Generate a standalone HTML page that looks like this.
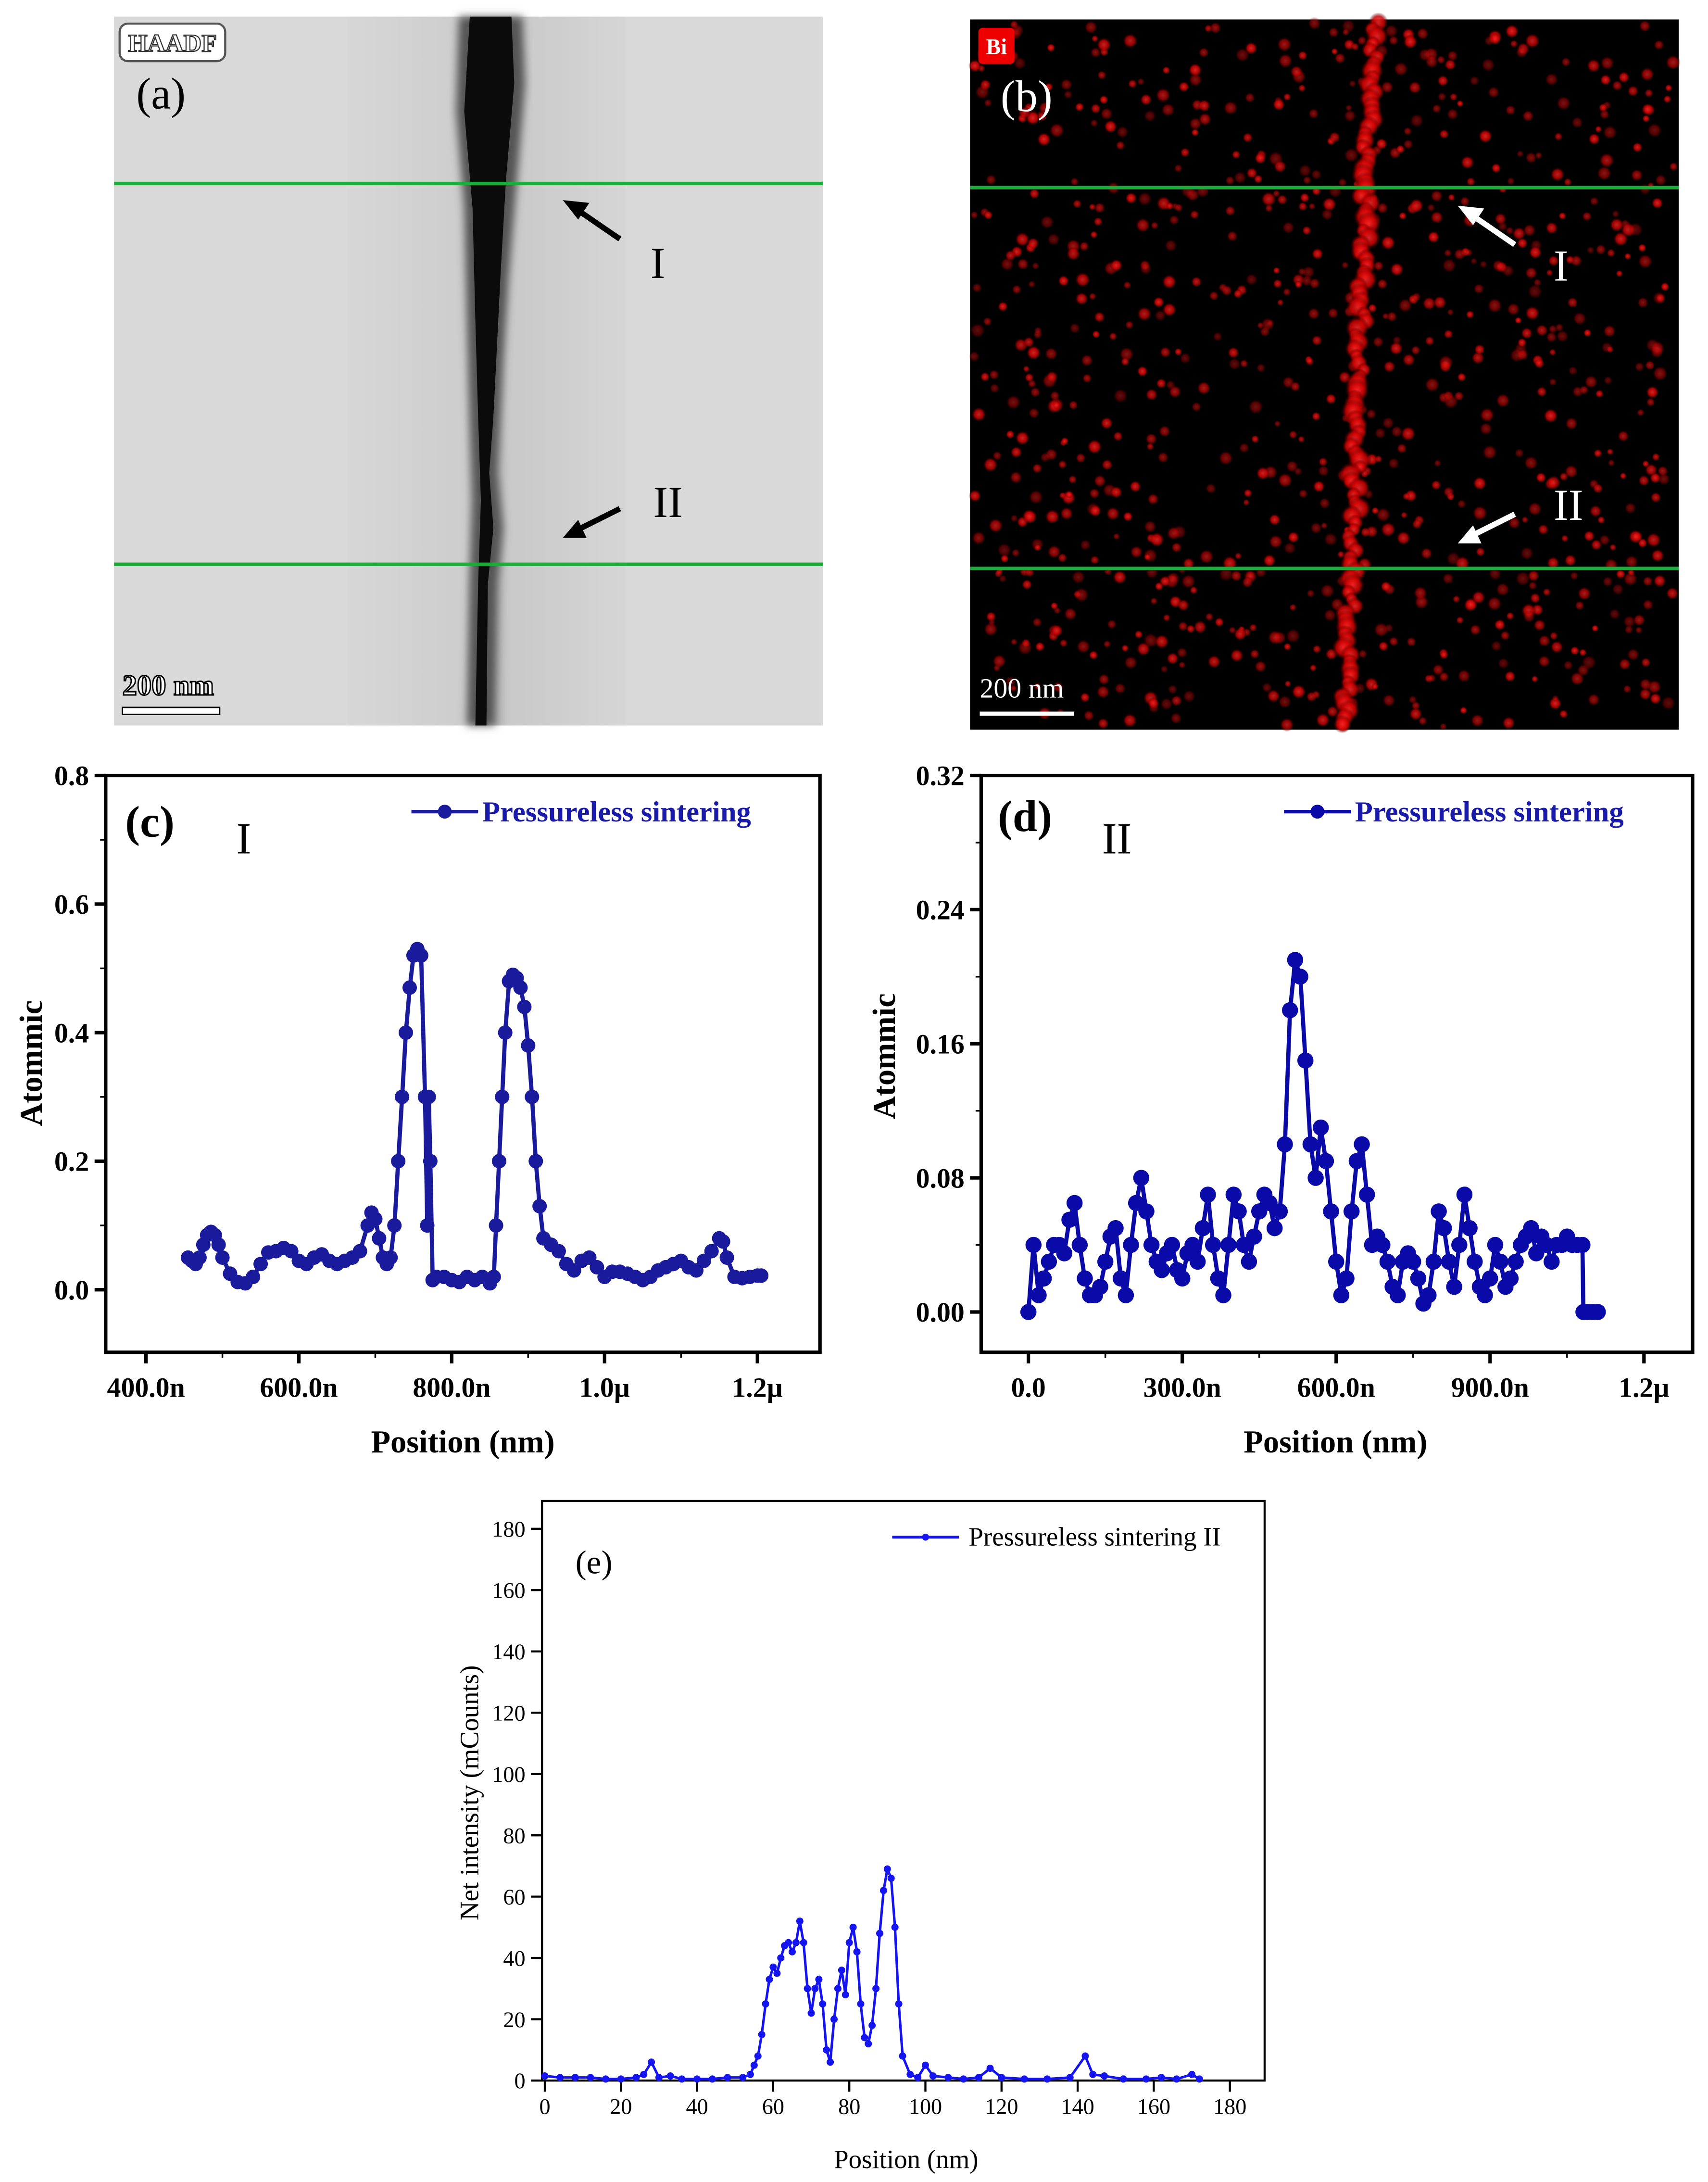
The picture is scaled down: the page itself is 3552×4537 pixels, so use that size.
<!DOCTYPE html>
<html><head><meta charset="utf-8"><style>
html,body{margin:0;padding:0;background:#fff}
svg{display:block}
text{font-family:"Liberation Serif",serif}
</style></head><body>
<svg id="root" xmlns="http://www.w3.org/2000/svg" width="3552" height="4537" viewBox="0 0 1229 1570">
<rect width="1229" height="1570" fill="#fff"/>
<defs>
<linearGradient id="crackg" x1="0" x2="1">
<stop offset="0" stop-color="#d6d6d6"/><stop offset="0.42" stop-color="#c8c8c8"/><stop offset="0.5" stop-color="#8a8a8a"/><stop offset="0.58" stop-color="#c2c2c2"/><stop offset="1" stop-color="#d4d4d4"/>
</linearGradient>
<radialGradient id="reddot"><stop offset="0" stop-color="#ff2a2a"/><stop offset="0.6" stop-color="#c00"/><stop offset="1" stop-color="#300" stop-opacity="0"/></radialGradient>
<filter id="blur1"><feGaussianBlur stdDeviation="3"/></filter>
</defs>
<!-- panel a -->
<g>
<rect x="82" y="12" width="510" height="510" fill="#d9d9d9"/>
<rect x="250" y="12" width="200" height="510" fill="url(#crackg)" opacity="0.7"/>
<path d="M330,12 L376,12 L378,60 L372,130 L366,200 L362,260 L360,300 L358,340 L362,380 L358,420 L356,522 L336,522 L338,420 L340,360 L338,300 L336,230 L334,150 L328,80 Z" fill="#555" filter="url(#blur1)"/>
<path d="M338,12 L368,12 L370,60 L364,130 L360,200 L357,260 L355,300 L352,340 L355,380 L351,420 L350,522 L342,522 L344,420 L346,360 L344,300 L342,230 L340,150 L334,80 Z" fill="#0b0b0b"/>
<line x1="82" y1="132" x2="592" y2="132" stroke="#1faa3c" stroke-width="2.5"/>
<line x1="82" y1="406" x2="592" y2="406" stroke="#1faa3c" stroke-width="2.5"/>
<rect x="86" y="17" width="76" height="27" rx="6" fill="#fff" stroke="#555" stroke-width="1.5"/>
<text x="124" y="37" font-size="18" text-anchor="middle" font-family="Liberation Sans,sans-serif" fill="#fff" stroke="#333" stroke-width="0.8" font-weight="bold">HAADF</text>
<text x="98" y="78" font-size="32">(a)</text>
<line x1="446" y1="172" x2="414" y2="150" stroke="#000" stroke-width="4"/><polygon points="405,144 424,146 416,158" fill="#000"/>
<text x="468" y="200" font-size="32">I</text>
<line x1="446" y1="366" x2="414" y2="382" stroke="#000" stroke-width="4"/><polygon points="405,387 416,374 422,387" fill="#000"/>
<text x="470" y="372" font-size="32">II</text>
<text x="88" y="500" font-size="21" font-family="Liberation Sans,sans-serif" font-weight="bold" fill="#fff" stroke="#000" stroke-width="1">200 nm</text>
<rect x="88" y="509" width="70" height="5" fill="#fff" stroke="#000" stroke-width="1"/>
</g>
<!-- panel b -->
<g>
<rect x="698" y="14" width="510" height="511" fill="#000"/>
<g id="dots"></g>
<line x1="698" y1="135" x2="1208" y2="135" stroke="#1faa3c" stroke-width="2.5"/>
<line x1="698" y1="409" x2="1208" y2="409" stroke="#1faa3c" stroke-width="2.5"/>
<rect x="704" y="20" width="26" height="26" rx="3" fill="#e00"/>
<text x="717" y="39" font-size="16" text-anchor="middle" font-family="Liberation Sans,sans-serif" font-weight="bold" fill="#fff">Bi</text>
<text x="720" y="80" font-size="32" fill="#fff">(b)</text>
<line x1="1090" y1="176" x2="1058" y2="154" stroke="#fff" stroke-width="4"/><polygon points="1049,148 1068,150 1060,162" fill="#fff"/>
<text x="1118" y="202" font-size="32" fill="#fff">I</text>
<line x1="1090" y1="370" x2="1058" y2="386" stroke="#fff" stroke-width="4"/><polygon points="1049,391 1060,378 1066,391" fill="#fff"/>
<text x="1118" y="374" font-size="32" fill="#fff">II</text>
<text x="705" y="502" font-size="20" font-family="Liberation Sans,sans-serif" fill="#fff">200 nm</text>
<rect x="705" y="512" width="68" height="3" fill="#fff"/>
</g>
<g id="pc"></g>
<g id="pd"></g>
<g id="pe"></g>
</svg>
<script>
// ---- chart c data
const cX=[455,460,465,470,475,480,485,490,495,500,510,520,530,540,550,560,570,580,590,600,610,620,630,640,650,660,670,680,690,695,700,705,710,715,720,725,730,735,740,745,750,755,760,765,768,770,772,775,780,790,800,810,820,830,840,850,855,858,862,866,870,875,880,885,890,895,900,905,910,915,920,930,940,950,960,970,980,990,1000,1010,1020,1030,1040,1050,1060,1070,1080,1090,1100,1110,1120,1130,1140,1150,1155,1160,1170,1180,1190,1200,1205];
const cY=[0.05,0.045,0.04,0.05,0.07,0.085,0.09,0.085,0.07,0.05,0.025,0.012,0.01,0.02,0.04,0.058,0.06,0.065,0.06,0.045,0.04,0.05,0.055,0.045,0.04,0.045,0.05,0.06,0.1,0.12,0.11,0.08,0.05,0.04,0.05,0.1,0.2,0.3,0.4,0.47,0.52,0.53,0.52,0.3,0.1,0.3,0.2,0.015,0.02,0.02,0.015,0.012,0.02,0.015,0.02,0.01,0.02,0.1,0.2,0.3,0.4,0.48,0.49,0.485,0.47,0.44,0.38,0.3,0.2,0.13,0.08,0.07,0.06,0.04,0.03,0.045,0.05,0.035,0.02,0.028,0.028,0.025,0.02,0.015,0.02,0.03,0.035,0.04,0.045,0.035,0.03,0.045,0.06,0.08,0.075,0.05,0.02,0.018,0.02,0.022,0.022];
const cXTicks=[400,600,800,1000,1200], cXLabels=["400.0n","600.0n","800.0n","1.0µ","1.2µ"];
const cYTicks=[0,0.2,0.4,0.6,0.8], cYLabels=["0.0","0.2","0.4","0.6","0.8"];
// ---- chart d data
const dY=[0,0.04,0.01,0.02,0.03,0.04,0.04,0.035,0.055,0.065,0.04,0.02,0.01,0.01,0.015,0.03,0.045,0.05,0.02,0.01,0.04,0.065,0.08,0.06,0.04,0.03,0.025,0.035,0.04,0.025,0.02,0.035,0.04,0.03,0.05,0.07,0.04,0.02,0.01,0.04,0.07,0.06,0.04,0.03,0.045,0.06,0.07,0.065,0.05,0.06,0.1,0.18,0.21,0.2,0.15,0.1,0.08,0.11,0.09,0.06,0.03,0.01,0.02,0.06,0.09,0.1,0.07,0.04,0.045,0.04,0.03,0.015,0.01,0.03,0.035,0.03,0.02,0.005,0.01,0.03,0.06,0.05,0.03,0.015,0.04,0.07,0.05,0.03,0.015,0.01,0.02,0.04,0.03,0.015,0.02,0.03,0.04,0.045,0.05,0.035,0.045,0.04,0.03,0.04,0.04,0.045,0.04,0.04,0.04,0,0,0,0];
const dX=[0,10,20,30,40,50,60,70,80,90,100,110,120,130,140,150,160,170,180,190,200,210,220,230,240,250,260,270,280,290,300,310,320,330,340,350,360,370,380,390,400,410,420,430,440,450,460,470,480,490,500,510,520,530,540,550,560,570,580,590,600,610,620,630,640,650,660,670,680,690,700,710,720,730,740,750,760,770,780,790,800,810,820,830,840,850,860,870,880,890,900,910,920,930,940,950,960,970,980,990,1000,1010,1020,1030,1040,1050,1060,1070,1080,1082,1090,1100,1110];
const dXTicks=[0,300,600,900,1200], dXLabels=["0.0","300.0n","600.0n","900.0n","1.2µ"];
const dYTicks=[0,0.08,0.16,0.24,0.32], dYLabels=["0.00","0.08","0.16","0.24","0.32"];
// ---- chart e data
const eX=[0,4,8,12,16,20,24,26,28,30,33,36,40,44,48,52,54,55,56,57,58,59,60,61,62,63,64,65,66,67,68,69,70,71,72,73,74,75,76,77,78,79,80,81,82,83,84,85,86,87,88,89,90,91,92,93,94,96,98,100,102,106,110,114,117,120,126,132,138,142,144,147,152,158,162,166,170,172];
const eY=[1.5,1,1,1,0.5,0.5,1,2,6,1,1.5,0.5,0.5,0.5,1,1,2,5,8,15,25,33,37,35,40,44,45,42,45,52,45,30,22,30,33,25,10,6,20,30,36,28,45,50,42,25,14,12,18,30,48,62,69,66,50,25,8,2,1,5,1.5,1,0.5,1,4,1,0.5,0.5,1,8,2,1.5,0.5,0.5,1,0.5,2,0.5];
const eXTicks=[0,20,40,60,80,100,120,140,160,180];
const eYTicks=[0,20,40,60,80,100,120,140,160,180];

const NS="http://www.w3.org/2000/svg";
function mk(parent,tag,attrs,txt){const e=document.createElementNS(NS,tag);for(const k in attrs)e.setAttribute(k,attrs[k]);if(txt!==undefined)e.textContent=txt;parent.appendChild(e);return e;}

function chart(g,o){
  const sx=v=>o.x0+(v-o.xa)/(o.xb-o.xa)*(o.x1-o.x0);
  const sy=v=>o.y0-(v-o.ya)/(o.yb-o.ya)*(o.y0-o.y1);
  const fr=mk(g,'rect',{x:o.L,y:o.T,width:o.R-o.L,height:o.B-o.T,fill:'none',stroke:'#000','stroke-width':o.bold?2.5:1.5});
  
  
  o.xt.forEach((t,i)=>{
    const X=sx(t);
    mk(g,'line',{x1:X,y1:o.B,x2:X,y2:o.B+8,stroke:'#000','stroke-width':o.bold?2.5:1.5});
    if(o.minor){const Xm=sx(t+o.minor);if(Xm<o.R)mk(g,'line',{x1:Xm,y1:o.B,x2:Xm,y2:o.B+4,stroke:'#000','stroke-width':1.2});}
    const tl=mk(g,'text',{x:X,y:o.B+o.xlo,'font-size':o.fs,'text-anchor':'middle','font-weight':o.bold?'bold':'normal'},o.xl[i]);
    
    
  });
  o.yt.forEach((t,i)=>{
    const Y=sy(t);
    mk(g,'line',{x1:o.L,y1:Y,x2:o.L-8,y2:Y,stroke:'#000','stroke-width':o.bold?2.5:1.5});
    if(o.yminor){const Ym=sy(t+o.yminor);if(Ym>o.T)mk(g,'line',{x1:o.L,y1:Ym,x2:o.L-4,y2:Ym,stroke:'#000','stroke-width':1.2});}
    const tl=mk(g,'text',{x:o.L-12,y:Y+o.fs*0.35,'font-size':o.fs,'text-anchor':'end','font-weight':o.bold?'bold':'normal'},o.yl[i]);
    
    
  });
  const pts=o.X.map((x,i)=>sx(x).toFixed(1)+','+sy(o.Y[i]).toFixed(1)).join(' ');
  const ln=mk(g,'polyline',{points:pts,fill:'none',stroke:o.col,'stroke-width':o.lw});
  
  
  o.X.forEach((x,i)=>{
    const c=mk(g,'circle',{cx:sx(x),cy:sy(o.Y[i]),r:o.r,fill:o.col});
    
    
  });
}
const pc=document.getElementById('pc'),pd=document.getElementById('pd'),pe=document.getElementById('pe');
chart(pc,{L:76,R:590,T:558,B:973,xa:400,xb:1200,x0:105,x1:545,ya:0,yb:0.8,y0:928,y1:558,xt:cXTicks,xl:cXLabels,yt:cYTicks,yl:cYLabels,X:cX,Y:cY,col:'#1a1a9c',lw:3,r:5.2,fs:20,bold:true,xlo:32,minor:100,yminor:0.1});
chart(pd,{L:706,R:1218,T:558,B:973,xa:0,xb:1200,x0:740,x1:1183,ya:0,yb:0.32,y0:944,y1:558,xt:dXTicks,xl:dXLabels,yt:dYTicks,yl:dYLabels,X:dX,Y:dY,col:'#0a0aa8',lw:3,r:5.8,fs:20,bold:true,xlo:32,minor:150,yminor:0.04});
chart(pe,{L:390,R:910,T:1080,B:1497,xa:0,xb:180,x0:392,x1:885,ya:0,yb:180,y0:1497,y1:1100,xt:eXTicks,xl:eXTicks.map(String),yt:eYTicks,yl:eYTicks.map(String),X:eX,Y:eY,col:'#1414f0',lw:1.8,r:2.6,fs:16,bold:false,xlo:24});

function t(p,attrs,txt,name){const e=mk(p,'text',attrs,txt);return e;}
t(pc,{x:333,y:1045,'font-size':23,'font-weight':'bold','text-anchor':'middle'},'Position (nm)','x-axis-title');
t(pc,{x:0,y:0,'font-size':23,'font-weight':'bold','text-anchor':'middle',transform:'translate(30,765) rotate(-90)'},'Atommic','y-axis-title');
t(pc,{x:90,y:602,'font-size':32,'font-weight':'bold'},'(c)','panel-label-c');
t(pc,{x:170,y:614,'font-size':32},'I','profile-label-I');
mk(pc,'line',{x1:296,y1:584,x2:344,y2:584,stroke:'#1a1a9c','stroke-width':2.5});mk(pc,'circle',{cx:320,cy:584,r:5,fill:'#1a1a9c'});
t(pc,{x:347,y:591,'font-size':21,'font-weight':'bold',fill:'#1a1aaa'},'Pressureless sintering','legend-entry');
t(pd,{x:961,y:1045,'font-size':23,'font-weight':'bold','text-anchor':'middle'},'Position (nm)','x-axis-title');
t(pd,{x:0,y:0,'font-size':23,'font-weight':'bold','text-anchor':'middle',transform:'translate(644,760) rotate(-90)'},'Atommic','y-axis-title');
t(pd,{x:718,y:598,'font-size':32,'font-weight':'bold'},'(d)','panel-label-d');
t(pd,{x:793,y:614,'font-size':32},'II','profile-label-II');
mk(pd,'line',{x1:924,y1:584,x2:972,y2:584,stroke:'#0a0aa8','stroke-width':2.5});mk(pd,'circle',{cx:948,cy:584,r:5,fill:'#0a0aa8'});
t(pd,{x:975,y:591,'font-size':21,'font-weight':'bold',fill:'#1a1aaa'},'Pressureless sintering','legend-entry');
t(pe,{x:652,y:1560,'font-size':19,'text-anchor':'middle'},'Position (nm)','x-axis-title');
t(pe,{x:0,y:0,'font-size':19,'text-anchor':'middle',transform:'translate(344,1290) rotate(-90)'},'Net intensity (mCounts)','y-axis-title');
t(pe,{x:414,y:1132,'font-size':24},'(e)','panel-label-e');
mk(pe,'line',{x1:642,y1:1106,x2:690,y2:1106,stroke:'#1414f0','stroke-width':2});mk(pe,'circle',{cx:666,cy:1106,r:2.5,fill:'#1414f0'});
t(pe,{x:697,y:1112,'font-size':19},'Pressureless sintering II','legend-entry');

// panel b decorative dots (image texture, not chart data)
const dots=document.getElementById('dots');
let s=12345;const rnd=()=>{s=(s*1103515245+12345)%2147483648;return s/2147483648;};
for(let i=0;i<900;i++){const x=700+rnd()*506,y=16+rnd()*507;mk(dots,'circle',{cx:x,cy:y,r:2.5+rnd()*3,fill:'url(#reddot)',opacity:0.35+rnd()*0.5});}
for(let y=16;y<523;y+=5){const x=988-(y-16)/507*20+(rnd()-0.5)*8;mk(dots,'circle',{cx:x,cy:y,r:5+rnd()*4,fill:'url(#reddot)',opacity:0.85});}
</script>
</body></html>
